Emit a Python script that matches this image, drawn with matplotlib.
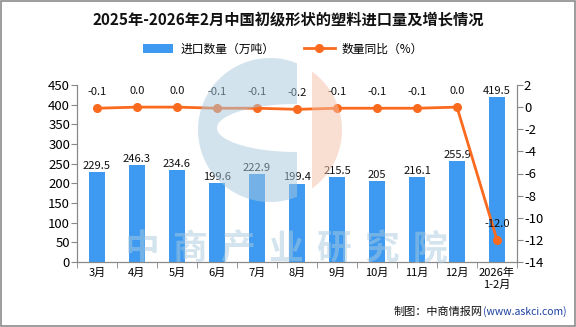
import matplotlib
matplotlib.use("Agg")
import matplotlib.pyplot as plt
from matplotlib.patches import Rectangle, PathPatch
from matplotlib.path import Path
import numpy as np

categories = ["3月", "4月", "5月", "6月", "7月", "8月", "9月", "10月", "11月", "12月", "2026年\n1-2月"]
import_volume = [229.5, 246.3, 234.6, 199.6, 222.9, 199.4, 215.5, 205, 216.1, 255.9, 419.5]
volume_labels = ["229.5", "246.3", "234.6", "199.6", "222.9", "199.4", "215.5", "205", "216.1", "255.9", "419.5"]
yoy = [-0.1, 0.0, 0.0, -0.1, -0.1, -0.2, -0.1, -0.1, -0.1, 0.0, -12.0]
yoy_labels = ["-0.1", "0.0", "0.0", "-0.1", "-0.1", "-0.2", "-0.1", "-0.1", "-0.1", "0.0", "-12.0"]

plt.rcParams['font.family'] = ['Noto Sans CJK SC', 'DejaVu Sans']
plt.rcParams['axes.unicode_minus'] = False
W, H = 576, 327
fig = plt.figure(figsize=(W/100, H/100), dpi=100)

def fp(px, py):
    return (px / W, 1 - py / H)

# border
fig.patches.append(Rectangle((0.002, 0.003), 0.996, 0.994, transform=fig.transFigure,
                             fill=False, edgecolor='#8c8c8c', linewidth=1.2))

ax = fig.add_axes([77/W, 1-262/H, (517-77)/W, (262-85)/H])
ax2 = ax.twinx()

x = np.arange(len(categories))
bar_color = '#3d9af0'
ax.bar(x, import_volume, width=0.4, color=bar_color, zorder=2, label='进口数量（万吨）')
for xi, v, lab in zip(x, import_volume, volume_labels):
    ax.text(xi, v + 3, lab, ha='center', va='bottom', fontsize=8, color='#111111')

line_color = '#fa6a1e'
ax2.plot(x, yoy, color=line_color, linewidth=2, marker='o', markersize=5.5, zorder=3,
         label='数量同比（%）')
for xi, v, lab in zip(x, yoy, yoy_labels):
    ax2.text(xi, v + 1.0, lab, ha='center', va='bottom', fontsize=8, color='#111111')

ax.set_xlim(-0.5, len(categories) - 0.5)
ax.set_ylim(0, 450)
ax.set_yticks(np.arange(0, 451, 50))
ax2.set_ylim(-14, 2)
ax2.set_yticks(np.arange(-14, 3, 2))

ax.set_xticks(x)
ax.set_xticklabels(categories, fontsize=8)
ax.set_xticks(np.arange(-0.5, len(categories), 1), minor=True)
ax.tick_params(axis='x', which='major', length=0, pad=4)
ax.tick_params(axis='x', which='minor', length=4, color='#888888')
ax.tick_params(axis='y', labelsize=9.5, length=4, color='#888888', pad=1)
ax2.tick_params(axis='y', labelsize=9.5, length=4, color='#888888', pad=1)

for a in (ax, ax2):
    a.spines['top'].set_visible(False)
    for s in ('left', 'right', 'bottom'):
        a.spines[s].set_color('#888888')
    a.set_facecolor('none')

# watermark logo (semi-transparent, drawn over the plot)
cx, cy, r = 270, 130, 72
xcut_b, xcut_o = 297, 312
t_b = np.arccos((xcut_b - cx) / r)
ang = np.linspace(t_b, 2*np.pi - t_b, 120)
outer = [(cx + r*np.cos(a_), cy - r*np.sin(a_)) for a_ in ang]
ecx, ecy, ea, eb = 297, 128, 80, 24
hang = np.linspace(np.pi/2, 3*np.pi/2, 80)
hole = [(ecx + ea*np.cos(a_), ecy - eb*np.sin(a_)) for a_ in hang]
hole = hole[::-1]
verts = [fp(*p) for p in outer] + [fp(*outer[0])]
codes = [Path.MOVETO] + [Path.LINETO]*(len(outer)-1) + [Path.CLOSEPOLY]
hv = [fp(*p) for p in hole] + [fp(*hole[0])]
hc = [Path.MOVETO] + [Path.LINETO]*(len(hole)-1) + [Path.CLOSEPOLY]
blue_path = Path(verts + hv, codes + hc)
fig.patches.append(PathPatch(blue_path, transform=fig.transFigure, facecolor=(169/255, 201/255, 221/255),
                             alpha=0.5, edgecolor='none', zorder=5))
t_o = np.arccos((xcut_o - cx) / r)
ang2 = np.linspace(-t_o, t_o, 80)
orng = [(cx + r*np.cos(a_), cy - r*np.sin(a_)) for a_ in ang2]
ov = [fp(*p) for p in orng] + [fp(*orng[0])]
oc = [Path.MOVETO] + [Path.LINETO]*(len(orng)-1) + [Path.CLOSEPOLY]
fig.patches.append(PathPatch(Path(ov, oc), transform=fig.transFigure, facecolor=(245/255, 191/255, 167/255),
                             alpha=0.5, edgecolor='none', zorder=5))

wm = "中商产业研究院"
for i, ch in enumerate(wm):
    fig.text(*fp(142 + i*48, 249), ch, fontsize=25, fontweight='bold', color=(170/255, 202/255, 222/255),
             alpha=0.5, ha='center', va='center', zorder=6)

fig.text(*fp(288, 20), "2025年-2026年2月中国初级形状的塑料进口量及增长情况", ha='center', va='center',
         fontsize=11, fontweight='bold', color='#111111')

h1, l1 = ax.get_legend_handles_labels()
h2, l2 = ax2.get_legend_handles_labels()
fig.legend(h1 + h2, l1 + l2, loc='center', bbox_to_anchor=fp(283, 49), ncol=2, frameon=False,
           fontsize=8.5, handlelength=2.6, columnspacing=2.5, handletextpad=0.6)

fig.text(*fp(483, 312), "制图：中商情报网", ha='right', va='center', fontsize=8, color='#111111')
fig.text(*fp(483, 312), "(www.askci.com)", ha='left', va='center', fontsize=7.5, color='#1a3fa0')

fig.savefig("out.png", dpi=100)
